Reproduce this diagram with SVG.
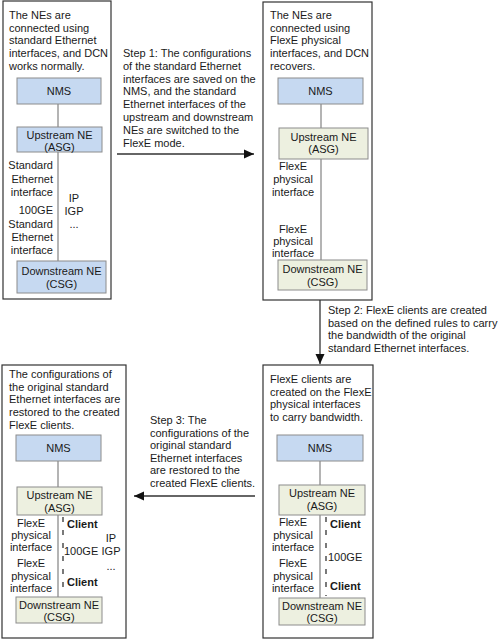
<svg xmlns="http://www.w3.org/2000/svg" width="503" height="639" viewBox="0 0 503 639">
<defs>
<style>
text{font-family:"Liberation Sans",Arial,sans-serif;font-size:11px;fill:#1a1a1a}
.c{text-anchor:middle}
.e{text-anchor:end}
.b{font-weight:bold}
.panel{fill:#fff;stroke:#333;stroke-width:1.2}
.blue{fill:#c6d9f1;stroke:#8c8c8c;stroke-width:1}
.green{fill:#edf0e0;stroke:#8c8c8c;stroke-width:1}
.ln{stroke:#8c8c8c;stroke-width:1.3;fill:none}
.dash{stroke:#222;stroke-width:1.2;stroke-dasharray:5 8;fill:none}
.arr{stroke:#333;stroke-width:1.3;fill:none}
</style>
<marker id="ah" viewBox="0 0 10 10" refX="10" refY="5" markerWidth="10" markerHeight="10" markerUnits="userSpaceOnUse" orient="auto">
<path d="M0,0.5 L10,5 L0,9.5 z" fill="#111"/>
</marker>
</defs>
<rect width="503" height="639" fill="#fff"/>

<!-- Panels -->
<g id="panel1">
<rect class="panel" x="3" y="1" width="108" height="298"/>
<text x="9" y="19">The NEs are</text>
<text x="9" y="31.7">connected using</text>
<text x="9" y="44.4">standard Ethernet</text>
<text x="9" y="57.1">interfaces, and DCN</text>
<text x="9" y="69.8">works normally.</text>
</g>
<g id="panel2">
<rect class="panel" x="263" y="2" width="109" height="298"/>
<text x="270" y="19">The NEs are</text>
<text x="270" y="31.7">connected using</text>
<text x="270" y="44.4">FlexE physical</text>
<text x="270" y="57.1">interfaces, and DCN</text>
<text x="270" y="69.8">recovers.</text>
</g>
<g id="panel3">
<rect class="panel" x="263" y="365" width="110" height="273"/>
<text x="270" y="383">FlexE clients are</text>
<text x="270" y="395.7">created on the FlexE</text>
<text x="270" y="408.4">physical interfaces</text>
<text x="270" y="421.1">to carry bandwidth.</text>
</g>
<g id="panel4">
<rect class="panel" x="2" y="365" width="124" height="273"/>
<text x="9" y="378">The configurations of</text>
<text x="9" y="390.7">the original standard</text>
<text x="9" y="403.4">Ethernet interfaces are</text>
<text x="9" y="416.1">restored to the created</text>
<text x="9" y="428.8">FlexE clients.</text>
</g>

<!-- Connectors -->
<g id="connectors">
<line class="ln" x1="58" y1="104" x2="58" y2="127"/>
<line class="ln" x1="58" y1="152" x2="58" y2="261"/>
<line class="ln" x1="321" y1="104" x2="321" y2="128"/>
<line class="ln" x1="321" y1="159" x2="321" y2="260"/>
<line class="ln" x1="320" y1="461" x2="320" y2="485"/>
<line class="ln" x1="320" y1="515" x2="320" y2="598"/>
<line class="dash" x1="326" y1="517" x2="326" y2="596"/>
<line class="ln" x1="58" y1="461" x2="58" y2="487"/>
<line class="ln" x1="58" y1="515" x2="58" y2="597"/>
<line class="dash" x1="63" y1="517" x2="63" y2="595"/>
<line class="arr" x1="117" y1="154" x2="254" y2="154" marker-end="url(#ah)"/>
<line class="arr" x1="320" y1="300" x2="320" y2="364" marker-end="url(#ah)"/>
<line class="arr" x1="255" y1="496" x2="134" y2="496" marker-end="url(#ah)"/>
</g>

<!-- Step labels -->
<g id="step1">
<text x="123" y="57">Step 1: The configurations</text>
<text x="123" y="69.8">of the standard Ethernet</text>
<text x="123" y="82.6">interfaces are saved on the</text>
<text x="123" y="95.4">NMS, and the standard</text>
<text x="123" y="108.2">Ethernet interfaces of the</text>
<text x="123" y="121">upstream and downstream</text>
<text x="123" y="133.8">NEs are switched to the</text>
<text x="123" y="146.6">FlexE mode.</text>
</g>
<g id="step2">
<text x="328" y="314">Step 2: FlexE clients are created</text>
<text x="328" y="326.5">based on the defined rules to carry</text>
<text x="328" y="339">the bandwidth of the original</text>
<text x="328" y="351.5">standard Ethernet interfaces.</text>
</g>
<g id="step3">
<text x="150" y="424">Step 3: The</text>
<text x="150" y="436.6">configurations of the</text>
<text x="150" y="449.2">original standard</text>
<text x="150" y="461.8">Ethernet interfaces</text>
<text x="150" y="474.4">are restored to the</text>
<text x="150" y="487">created FlexE clients.</text>
</g>

<!-- Panel 1 nodes -->
<g id="p1-nms"><rect class="blue" x="17" y="78" width="84" height="26"/><text class="c" x="59" y="95">NMS</text></g>
<g id="p1-up"><rect class="blue" x="17" y="127" width="85" height="25"/><text class="c" x="59.5" y="139">Upstream NE</text><text class="c" x="59.5" y="151">(ASG)</text></g>
<g id="p1-down"><rect class="blue" x="17" y="261" width="89" height="32"/><text class="c" x="61.5" y="275">Downstream NE</text><text class="c" x="61.5" y="288">(CSG)</text></g>
<g id="p1-labels">
<text class="e" x="53" y="169">Standard</text>
<text class="e" x="53" y="183">Ethernet</text>
<text class="e" x="53" y="196">interface</text>
<text class="e" x="53" y="214">100GE</text>
<text class="e" x="53" y="228">Standard</text>
<text class="e" x="53" y="241">Ethernet</text>
<text class="e" x="53" y="254">interface</text>
<text class="c" x="74" y="202">IP</text>
<text class="c" x="74" y="215">IGP</text>
<text class="c" x="74" y="228">...</text>
</g>

<!-- Panel 2 nodes -->
<g id="p2-nms"><rect class="blue" x="278" y="78" width="85" height="26"/><text class="c" x="320.5" y="95">NMS</text></g>
<g id="p2-up"><rect class="green" x="279" y="128" width="89" height="31"/><text class="c" x="323.5" y="141">Upstream NE</text><text class="c" x="323.5" y="153">(ASG)</text></g>
<g id="p2-down"><rect class="green" x="278" y="260" width="89" height="30"/><text class="c" x="322.5" y="273">Downstream NE</text><text class="c" x="322.5" y="286">(CSG)</text></g>
<g id="p2-labels">
<text class="c" x="293" y="170">FlexE</text>
<text class="c" x="293" y="183">physical</text>
<text class="c" x="293" y="196">interface</text>
<text class="c" x="293" y="233">FlexE</text>
<text class="c" x="293" y="245">physical</text>
<text class="c" x="293" y="257">interface</text>
</g>

<!-- Panel 3 nodes -->
<g id="p3-nms"><rect class="blue" x="277" y="435" width="86" height="26"/><text class="c" x="320" y="452">NMS</text></g>
<g id="p3-up"><rect class="green" x="279" y="485" width="86" height="30"/><text class="c" x="322" y="497">Upstream NE</text><text class="c" x="322" y="510">(ASG)</text></g>
<g id="p3-down"><rect class="green" x="279" y="598" width="86" height="27"/><text class="c" x="322" y="610">Downstream NE</text><text class="c" x="322" y="622">(CSG)</text></g>
<g id="p3-labels">
<text class="c" x="293" y="526">FlexE</text>
<text class="c" x="293" y="539">physical</text>
<text class="c" x="293" y="551">interface</text>
<text class="c" x="293" y="567">FlexE</text>
<text class="c" x="293" y="580">physical</text>
<text class="c" x="293" y="592">interface</text>
<text class="b" x="330" y="528">Client</text>
<text x="328" y="561">100GE</text>
<text class="b" x="330" y="590">Client</text>
</g>

<!-- Panel 4 nodes -->
<g id="p4-nms"><rect class="blue" x="16" y="435" width="85" height="26"/><text class="c" x="58.5" y="452">NMS</text></g>
<g id="p4-up"><rect class="green" x="17" y="487" width="85" height="28"/><text class="c" x="59.5" y="499">Upstream NE</text><text class="c" x="59.5" y="512">(ASG)</text></g>
<g id="p4-down"><rect class="green" x="16" y="597" width="86" height="26"/><text class="c" x="59" y="609">Downstream NE</text><text class="c" x="59" y="621">(CSG)</text></g>
<g id="p4-labels">
<text class="c" x="31" y="527">FlexE</text>
<text class="c" x="31" y="539">physical</text>
<text class="c" x="31" y="551">interface</text>
<text class="c" x="31" y="567">FlexE</text>
<text class="c" x="31" y="580">physical</text>
<text class="c" x="31" y="592">interface</text>
<text class="b" x="67" y="528">Client</text>
<text x="64" y="555">100GE</text>
<text class="b" x="67" y="586">Client</text>
<text class="c" x="111" y="542">IP</text>
<text class="c" x="111" y="555">IGP</text>
<text class="c" x="111" y="570">...</text>
</g>
</svg>
